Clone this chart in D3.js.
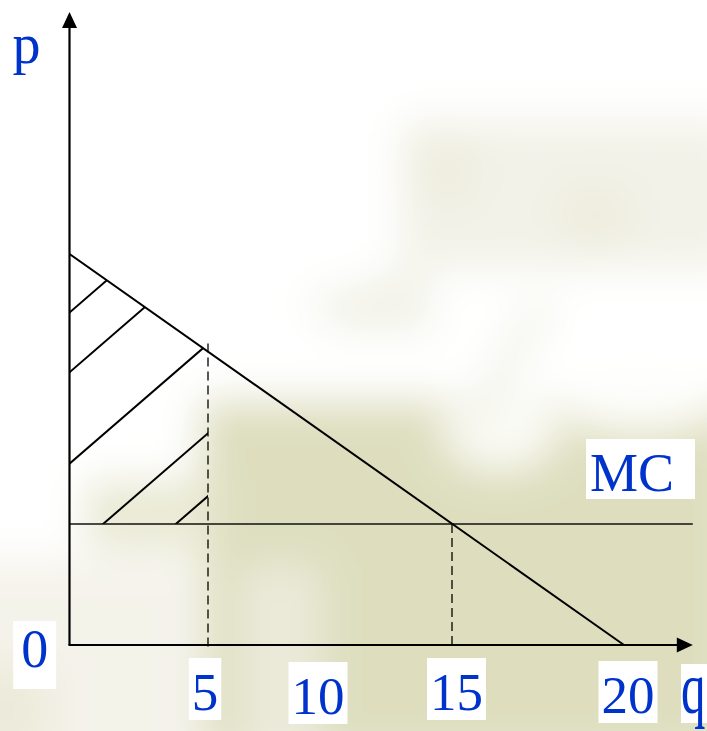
<!DOCTYPE html>
<html>
<head>
<meta charset="utf-8">
<script src="https://cdn.jsdelivr.net/npm/d3@7"></script>
<style>
  html, body { margin: 0; padding: 0; background: #fff; overflow: hidden; }
  svg { display: block; }
</style>
</head>
<body>
<svg id="chart" width="707" height="731"></svg>
<script>
// Linear demand p = 20 - q facing a constant marginal cost MC = 5.
const quantityTicks = [5, 10, 15, 20];
const demandQ = [0, 20];
const demandP = [20, 0];
const mcLevel = 5;
const chosenQ = 5;       // output under the shaded surplus
const efficientQ = 15;   // demand meets MC here
// price at which each hatch stroke would meet the price axis
const hatchIntercepts = [17.0, 13.8, 8.5, 3.8, 1.2];
const axisMaxQ = 22;
const axisMaxP = 32.4;

// The diagram is schematic, so both axes use piecewise-linear scales.
const x = d3.scaleLinear().domain([0, 5, 15, 20]).range([69.5, 208, 452, 624]);
const y = d3.scaleLinear().domain([0, 5, 15, 20]).range([645, 524, 351.6, 254]);

const svg = d3.select("#chart");
const defs = svg.append("defs");

// ---------- soft photographic backdrop ----------
defs.append("filter").attr("id", "soft")
  .attr("x", "-20%").attr("y", "-20%").attr("width", "140%").attr("height", "140%")
  .append("feGaussianBlur").attr("stdDeviation", 20);

const bg = svg.append("g").attr("filter", "url(#soft)");
bg.append("rect").attr("x", -50).attr("y", -50).attr("width", 807).attr("height", 831).attr("fill", "#ffffff");
const bgRects = [
  [400, 120, 340, 150, "#f3f2e8"],
  [200, 400, 540, 360, "#dedebf"],
  [85, 480, 130, 70, "#e9e9d4"],
  [-40, 560, 230, 220, "#f4f3ea"],
  [-40, 665, 90, 90, "#ecebda"],
  [240, 565, 80, 200, "#ebeada"]
];
bgRects.forEach(r => bg.append("rect")
  .attr("x", r[0]).attr("y", r[1]).attr("width", r[2]).attr("height", r[3]).attr("fill", r[4]));
const bgBlobs = [
  [445, 170, 30, 36, "#eeedde"],
  [595, 215, 36, 28, "#edecdc"],
  [500, 430, 58, 40, "#fbfbf6"],
  [640, 405, 80, 28, "#fdfdfa"]
];
bgBlobs.forEach(b => bg.append("ellipse")
  .attr("cx", b[0]).attr("cy", b[1]).attr("rx", b[2]).attr("ry", b[3]).attr("fill", b[4]));
bg.append("path").attr("d", "M300,300 L425,265 L435,332 L340,332 Z").attr("fill", "#f2f2e8");
bg.append("path").attr("d", "M545,300 L470,425").attr("stroke", "#eeefe2").attr("stroke-width", 20);

// ---------- hatched surplus between demand and MC, q in [0, chosenQ] ----------
const surplus = [[0, demandP[0]], [chosenQ, 20 - chosenQ], [chosenQ, mcLevel], [0, mcLevel]];
defs.append("clipPath").attr("id", "surplusClip")
  .append("path")
  .attr("d", d3.line().x(d => x(d[0])).y(d => y(d[1]))(surplus) + "Z");

const hatchSlope = -0.865; // pixel rise per pixel run
const hatchRun = 260;
svg.append("g").attr("clip-path", "url(#surplusClip)")
  .selectAll("line").data(hatchIntercepts).join("line")
  .attr("x1", x(0)).attr("y1", d => y(d))
  .attr("x2", x(0) + hatchRun).attr("y2", d => y(d) + hatchSlope * hatchRun)
  .attr("stroke", "#000").attr("stroke-width", 2);

// ---------- MC line ----------
svg.append("line")
  .attr("x1", x(0)).attr("x2", x(axisMaxQ))
  .attr("y1", y(mcLevel)).attr("y2", y(mcLevel))
  .attr("stroke", "#111").attr("stroke-width", 1.3);

// ---------- dashed guides ----------
const guides = [
  { q: chosenQ, top: 20 - chosenQ, overshoot: 8, under: 4 },
  { q: efficientQ, top: mcLevel, overshoot: 0, under: 0 }
];
svg.append("g").selectAll("line").data(guides).join("line")
  .attr("x1", d => x(d.q)).attr("x2", d => x(d.q))
  .attr("y1", d => y(d.top) - d.overshoot).attr("y2", d => y(0) + d.under)
  .attr("stroke", "#000").attr("stroke-width", 1.3)
  .attr("stroke-dasharray", "9,5");

// ---------- demand line ----------
svg.append("path")
  .datum(d3.zip(demandQ, demandP))
  .attr("d", d3.line().x(d => x(d[0])).y(d => y(d[1])))
  .attr("fill", "none").attr("stroke", "#000").attr("stroke-width", 2);

// ---------- axes with arrowheads ----------
const axes = svg.append("g");
axes.append("line")
  .attr("x1", x(0)).attr("y1", y(0)).attr("x2", x(0)).attr("y2", y(axisMaxP) + 14)
  .attr("stroke", "#000").attr("stroke-width", 2.2);
axes.append("line")
  .attr("x1", x(0) - 1).attr("y1", y(0)).attr("x2", x(axisMaxQ) - 14).attr("y2", y(0))
  .attr("stroke", "#000").attr("stroke-width", 2.2);
const ax = x(0), ay = y(axisMaxP), bx = x(axisMaxQ), by = y(0);
axes.append("path")
  .attr("d", `M${ax},${ay} L${ax - 7.5},${ay + 16} L${ax + 7.5},${ay + 16} Z`).attr("fill", "#000");
axes.append("path")
  .attr("d", `M${bx},${by} L${bx - 16},${by - 7.5} L${bx - 16},${by + 7.5} Z`).attr("fill", "#000");

// ---------- labels ----------
const blue = "#0033cc";
const serif = "'Liberation Serif', 'Times New Roman', serif";

function label(text, px, py, size, anchor, box, squeeze) {
  const g = svg.append("g");
  const r = box ? g.append("rect").attr("fill", "#fff") : null;
  const t = g.append("text")
    .attr("text-anchor", anchor)
    .attr("font-family", serif).attr("font-size", size)
    .attr("fill", blue).text(text);
  if (squeeze) {
    t.attr("transform", `translate(${px},${py}) scale(${squeeze},1)`);
  } else {
    t.attr("x", px).attr("y", py);
  }
  if (box) {
    const bb = t.node().getBBox();
    const left = box.left != null ? box.left : bb.x - box.pad;
    const right = box.right != null ? box.right : bb.x + bb.width + box.pad;
    r.attr("x", left).attr("y", py - box.up)
      .attr("width", right - left).attr("height", box.up + box.down);
  }
}

// tick labels under the quantity axis
const tickNudge = { 5: [-3, 710], 10: [-12, 714], 15: [4.5, 710], 20: [4, 713] };
quantityTicks.forEach(v => {
  const [dx, base] = tickNudge[v];
  label(String(v), x(v) + dx, base, 53, "middle", { pad: 3, up: 52, down: 10 });
});

label("0", 34.7, 667, 54, "middle", { pad: 8, up: 46, down: 22 });
label("p", 12.5, 63, 56, "start", null);
label("q", 681, 713, 74, "start", { left: 681, right: 710, up: 49, down: 10 }, 0.66);
label("MC", 590, 491, 54, "start", { left: 586, right: 695, up: 52, down: 8 });
</script>
</body>
</html>
